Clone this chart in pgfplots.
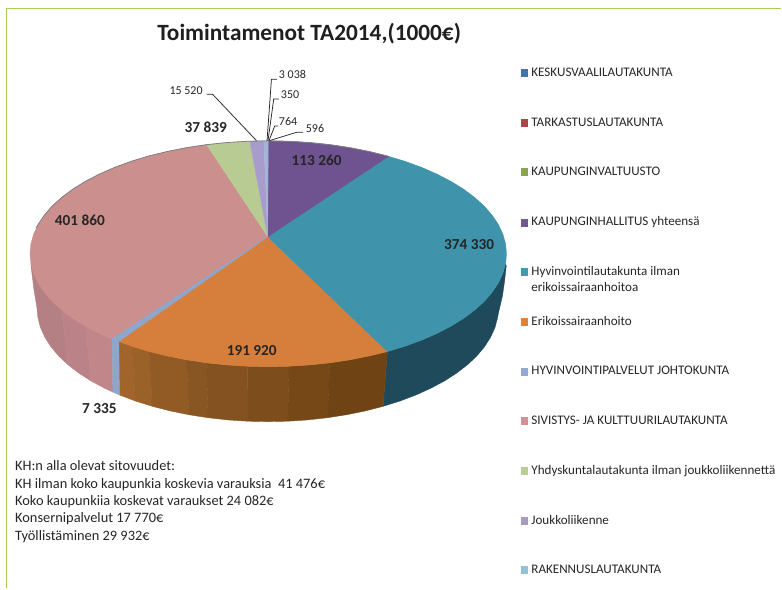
\documentclass[border=0pt]{standalone}
\usepackage{pgfplots}
\pgfplotsset{compat=1.18}
\usepackage{fontspec}
\setmainfont{Carlito}
\definecolor{cKes}{HTML}{4572A7}
\definecolor{cTar}{HTML}{AA4643}
\definecolor{cVal}{HTML}{89A54E}
\definecolor{cHal}{HTML}{71588F}
\definecolor{cHyv}{HTML}{4198AF}
\definecolor{cEri}{HTML}{DB843D}
\definecolor{cJoh}{HTML}{93A9CF}
\definecolor{cSiv}{HTML}{D19392}
\definecolor{cYhd}{HTML}{B9CD96}
\definecolor{cJou}{HTML}{A99BBD}
\definecolor{cRak}{HTML}{91C3D5}
\definecolor{tHal}{HTML}{6F5290}
\definecolor{tHyv}{HTML}{3F93AB}
\definecolor{tEri}{HTML}{D67F3C}
\definecolor{tJoh}{HTML}{8EA6CC}
\definecolor{tSiv}{HTML}{CB8F8E}
\definecolor{tYhd}{HTML}{B8CB92}
\definecolor{tJou}{HTML}{A79CCB}
\definecolor{tRak}{HTML}{A3B4D6}
\definecolor{frame}{HTML}{A6CE5A}
\definecolor{ink}{HTML}{262626}
\definecolor{sTeal}{HTML}{1F4A5C}
\definecolor{sO1}{HTML}{A1652B}
\definecolor{sO2}{HTML}{9A6128}
\definecolor{sO3}{HTML}{925B25}
\definecolor{sO4}{HTML}{885622}
\definecolor{sO5}{HTML}{835220}
\definecolor{sO6}{HTML}{7D4D1C}
\definecolor{sO7}{HTML}{764818}
\definecolor{sO8}{HTML}{6F4314}
\definecolor{sP1}{HTML}{C0868A}
\definecolor{sP2}{HTML}{BB8387}
\definecolor{sP3}{HTML}{B58084}
\definecolor{sRim}{HTML}{7F7F85}
\tikzset{
  legtxt/.style={anchor=base west,inner sep=0pt,font=\fontsize{13.1}{15}\selectfont,text=ink},
  boldlab/.style={anchor=base,inner sep=0pt,font=\fontsize{15.3}{17}\selectfont\bfseries,text=ink},
  leadlab/.style={anchor=base west,inner sep=0pt,font=\fontsize{12}{14}\selectfont,text=ink},
  note/.style={anchor=base west,inner sep=0pt,font=\fontsize{14.4}{16}\selectfont,text=ink},
}
\begin{document}
\begin{tikzpicture}
\begin{axis}[
  width=782pt,height=589pt,scale only axis,
  xmin=0,xmax=782,ymin=0,ymax=589,y dir=reverse,
  hide axis,clip=false,
  every axis plot/.append style={no markers,line join=round},
]
% page extent
\addplot[draw=none] coordinates {(0,0) (782,589)};
% frame
\addplot[frame,line width=1.5pt] coordinates {(6.5,589) (6.5,8.5) (782,8.5)};

% side walls -------------------------------------------------------
% teal wall
\addplot[fill=sTeal,draw=sTeal,line width=.3pt] coordinates {
(506.8,266) (505,282) (503,296) (499,313) (498.1,317.9) (495.5,327.8) (491.1,337.5) (485.1,347) (477.4,356.2)
(468.1,365) (457.2,373.4) (445,381.3) (431.3,388.6) (416.5,395.3) (400.5,401.4) (383.5,406.7)
(387.8,351.9) (405.3,346.6) (421.8,340.6) (437.1,333.9) (451.2,326.6) (463.9,318.8) (475,310.5)
(484.7,301.8) (492.6,292.6) (498.9,283.2) (503.4,273.6) (506.1,263.9)} --cycle;
% orange wall strips
\addplot[fill=sO1,draw=sO1,line width=.4pt] coordinates {(119,341.7) (131.7,346.6) (135.5,401.4) (119.5,395.3)} --cycle;
\addplot[fill=sO2,draw=sO2,line width=.4pt] coordinates {(131.7,346.6) (149.2,351.9) (152.5,406.7) (135.5,401.4)} --cycle;
\addplot[fill=sO3,draw=sO3,line width=.4pt] coordinates {(149.2,351.9) (167.7,356.4) (186.9,360.2) (189,415.1) (170.4,411.3) (152.5,406.7)} --cycle;
\addplot[fill=sO4,draw=sO4,line width=.4pt] coordinates {(186.9,360.2) (206.8,363.2) (208.2,418.1) (189,415.1)} --cycle;
\addplot[fill=sO5,draw=sO5,line width=.4pt] coordinates {(206.8,363.2) (227.1,365.3) (247.7,366.6) (247.9,421.6) (227.9,420.3) (208.2,418.1)} --cycle;
\addplot[fill=sO6,draw=sO6,line width=.4pt] coordinates {(247.7,366.6) (268.5,367) (289.3,366.6) (288.1,421.6) (268,422) (247.9,421.6)} --cycle;
\addplot[fill=sO7,draw=sO7,line width=.4pt] coordinates {(289.3,366.6) (309.9,365.3) (330.2,363.2) (327.8,418.1) (308.1,420.3) (288.1,421.6)} --cycle;
\addplot[fill=sO8,draw=sO8,line width=.4pt] coordinates {(330.2,363.2) (350.1,360.2) (369.3,356.4) (387.8,351.9) (383.5,406.7) (365.6,411.3) (347,415.1) (327.8,418.1)} --cycle;
% pink wall strips
\addplot[fill=sP3,draw=sP3,line width=.4pt] coordinates {(62,310.5) (52.3,301.8) (44.4,292.6) (38.1,283.2) (33.6,273.6) (30.9,263.9) (31.5,270) (34,290) (37,308) (37.9,317.9) (40.5,327.8) (44.9,337.5) (50.9,347) (58.6,356.2) (67.9,365)} --cycle;
\addplot[fill=sP2,draw=sP2,line width=.4pt] coordinates {(85.8,326.6) (73.1,318.8) (62,310.5) (67.9,365) (78.8,373.4) (91,381.3)} --cycle;
\addplot[fill=sP1,draw=sP1,line width=.4pt] coordinates {(112,339.3) (99.9,333.9) (85.8,326.6) (91,381.3) (104.7,388.6) (113,392.5)} --cycle;
% light-blue wall
\addplot[fill=tJoh,draw=tJoh,line width=.3pt] coordinates {(112,339.3) (119,341.7) (119.5,395.3) (113,392.5)} --cycle;

% top surface ------------------------------------------------------
% Erikoissairaanhoito
\addplot[fill=tEri,draw=tEri,line width=.3pt] coordinates {
(268,237) (387.8,351.9) (369.3,356.4) (350.1,360.2) (330.2,363.2) (309.9,365.3) (289.3,366.6) (268.5,367)
(247.7,366.6) (227.1,365.3) (206.8,363.2) (186.9,360.2) (167.7,356.4) (149.2,351.9) (131.7,346.6) (119,341.7)} --cycle;
% Hyvinvointilautakunta
\addplot[fill=tHyv,draw=tHyv,line width=.3pt] coordinates {
(268,237) (389,156.5) (405.3,161.4) (421.8,167.4) (437.1,174.1) (451.2,181.4) (463.9,189.2) (475,197.5)
(484.7,206.2) (492.6,215.4) (498.9,224.8) (503.4,234.4) (506.1,244.1) (507,254) (506.1,263.9) (503.4,273.6)
(498.9,283.2) (492.6,292.6) (484.7,301.8) (475,310.5) (463.9,318.8) (451.2,326.6) (437.1,333.9) (421.8,340.6)
(405.3,346.6) (387.8,351.9)} --cycle;
% Kaupunginhallitus
\addplot[fill=tHal,draw=tHal,line width=.3pt] coordinates {
(268,237) (268.5,141) (289.3,141.4) (309.9,142.7) (330.2,144.8) (350.1,147.8) (369.3,151.6) (389,156.5)} --cycle;
% Sivistys
\addplot[fill=tSiv,draw=tSiv,line width=.3pt] coordinates {
(268,237) (112,339.3) (99.9,333.9) (85.8,326.6) (73.1,318.8) (62,310.5) (52.3,301.8) (44.4,292.6) (38.1,283.2)
(33.6,273.6) (30.9,263.9) (30,254) (30.9,244.1) (33.6,234.4) (38.1,224.8) (44.4,215.4) (52.3,206.2) (62,197.5)
(73.1,189.2) (85.8,181.4) (99.9,174.1) (115.2,167.4) (131.7,161.4) (149.2,156.1) (167.7,151.6) (186.9,147.8) (206.8,144.8)} --cycle;
% Hyvinvointipalvelut johtokunta
\addplot[fill=tJoh,draw=tJoh,line width=.3pt] coordinates {(268,237) (119,341.7) (112,339.3)} --cycle;
% Yhdyskuntalautakunta
\addplot[fill=tYhd,draw=tYhd,line width=.3pt] coordinates {(268,237) (206.8,144.8) (227.1,142.7) (250,141.3)} --cycle;
% Joukkoliikenne
\addplot[fill=tJou,draw=tJou,line width=.3pt] coordinates {(268,237) (250,141.3) (264,141)} --cycle;
% small slices
\addplot[fill=tRak,draw=tRak,line width=.3pt] coordinates {(268,237) (264,141) (268.5,141)} --cycle;
% upper rim shading
\addplot[sRim,line width=.8pt] coordinates {
(36,228) (44.4,215.4) (52.3,206.2) (62,197.5) (73.1,189.2) (85.8,181.4) (99.9,174.1) (115.2,167.4) (131.7,161.4)
(149.2,156.1) (167.7,151.6) (186.9,147.8) (206.8,144.8) (227.1,142.7) (247.7,141.4) (268.5,141) (289.3,141.4)
(309.9,142.7) (330.2,144.8) (350.1,147.8) (369.3,151.6) (387.8,156.1)};

% leader lines
\addplot[ink,line width=.75pt] coordinates {(206.7,94.3) (212.7,94.3) (256.7,140.7)};
\addplot[ink,line width=.75pt] coordinates {(277.3,79.3) (271.7,79.3) (267.3,140.7)};
\addplot[ink,line width=.75pt] coordinates {(279.3,99) (274,99) (268.3,140.7)};
\addplot[ink,line width=.75pt] coordinates {(278.7,126) (275,126) (269.3,140.7)};
\addplot[ink,line width=.75pt] coordinates {(303.3,132.3) (297.3,132.3) (270,140.7)};

% legend swatches
\addplot[fill=cKes,draw=none] coordinates {(521,69) (529,69) (529,77) (521,77)};
\addplot[fill=cTar,draw=none] coordinates {(521,119) (529,119) (529,127) (521,127)};
\addplot[fill=cVal,draw=none] coordinates {(521,168.5) (529,168.5) (529,176.5) (521,176.5)};
\addplot[fill=cHal,draw=none] coordinates {(521,219) (529,219) (529,227) (521,227)};
\addplot[fill=cHyv,draw=none] coordinates {(521,268) (529,268) (529,276) (521,276)};
\addplot[fill=cEri,draw=none] coordinates {(521,318) (529,318) (529,326) (521,326)};
\addplot[fill=cJoh,draw=none] coordinates {(521,368) (529,368) (529,376) (521,376)};
\addplot[fill=cSiv,draw=none] coordinates {(521,417) (529,417) (529,425) (521,425)};
\addplot[fill=cYhd,draw=none] coordinates {(521,467) (529,467) (529,475) (521,475)};
\addplot[fill=cJou,draw=none] coordinates {(521,517) (529,517) (529,525) (521,525)};
\addplot[fill=cRak,draw=none] coordinates {(521,567) (529,567) (529,575) (521,575)};

% title
\node[anchor=base,inner sep=0pt,font=\fontsize{23.3}{26}\selectfont\bfseries,text=black!88] at (axis cs:309.5,41) {Toimintamenot TA2014,(1000€)};

% legend text
\node[legtxt] at (axis cs:531.7,76.6) {KESKUSVAALILAUTAKUNTA};
\node[legtxt] at (axis cs:531.7,126.6) {TARKASTUSLAUTAKUNTA};
\node[legtxt] at (axis cs:531.7,176) {KAUPUNGINVALTUUSTO};
\node[legtxt] at (axis cs:531.7,226) {KAUPUNGINHALLITUS yhteensä};
\node[legtxt] at (axis cs:531.7,275.6) {Hyvinvointilautakunta ilman};
\node[legtxt] at (axis cs:531.7,292) {erikoissairaanhoitoa};
\node[legtxt] at (axis cs:531.7,326) {Erikoissairaanhoito};
\node[legtxt] at (axis cs:531.7,375) {HYVINVOINTIPALVELUT JOHTOKUNTA};
\node[legtxt] at (axis cs:531.7,425) {SIVISTYS- JA KULTTUURILAUTAKUNTA};
\node[legtxt] at (axis cs:531.7,475) {Yhdyskuntalautakunta ilman joukkoliikennettä};
\node[legtxt] at (axis cs:531.7,525) {Joukkoliikenne};
\node[legtxt] at (axis cs:531.7,574) {RAKENNUSLAUTAKUNTA};

% bold data labels
\node[boldlab] at (axis cs:206,133) {37 839};
\node[boldlab] at (axis cs:317,166) {113 260};
\node[boldlab] at (axis cs:80,226) {401 860};
\node[boldlab] at (axis cs:469.5,250) {374 330};
\node[boldlab] at (axis cs:252,356) {191 920};
\node[boldlab] at (axis cs:99.5,414) {7 335};

% small labels
\node[leadlab] at (axis cs:169.5,95) {15 520};
\node[leadlab] at (axis cs:279,79) {3 038};
\node[leadlab] at (axis cs:281,99) {350};
\node[leadlab] at (axis cs:279,126) {764};
\node[leadlab] at (axis cs:306,133) {596};

% note
\node[note] at (axis cs:15,471) {KH:n alla olevat sitovuudet:};
\node[note] at (axis cs:15,489) {KH ilman koko kaupunkia koskevia varauksia\ \ 41 476€};
\node[note] at (axis cs:15,506) {Koko kaupunkiia koskevat varaukset 24 082€};
\node[note] at (axis cs:15,523) {Konsernipalvelut 17 770€};
\node[note] at (axis cs:15,541) {Työllistäminen 29 932€};
\end{axis}
\end{tikzpicture}
\end{document}
